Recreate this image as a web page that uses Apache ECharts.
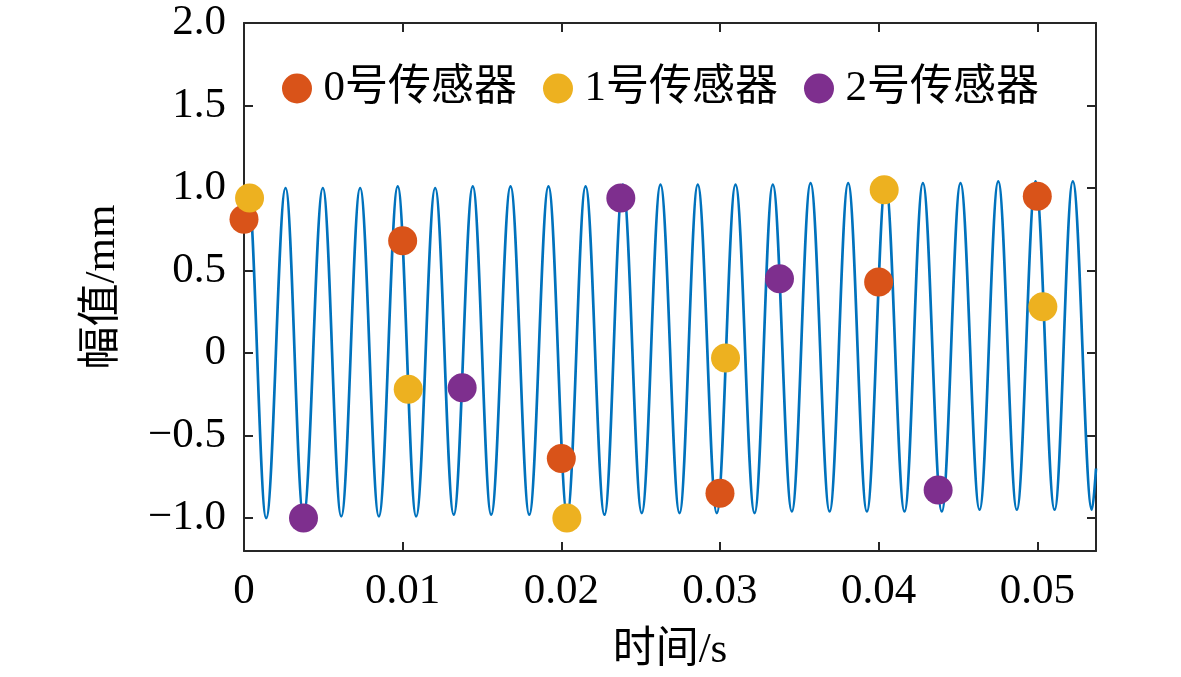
<!DOCTYPE html>
<html>
<head>
    <meta charset="utf-8">
    <title>传感器采样</title>
    <script src="https://cdn.jsdelivr.net/npm/echarts@6.0.0/dist/echarts.min.js"></script>
    <style>
        html, body { margin: 0; padding: 0; background: #fff; }
        #chart { width: 1181px; height: 677px; }
    </style>
</head>
<body>
<div id="chart"></div>
<script>
    // 振动曲线：起点、各波峰/波谷、终点
    var waveT = [0, 0.00025, 0.00140, 0.00262, 0.00375, 0.00497, 0.00613, 0.00732, 0.00850, 0.00969,
        0.01085, 0.01205, 0.01322, 0.01442, 0.01558, 0.01680, 0.01798, 0.01919, 0.02037, 0.02153,
        0.02272, 0.02388, 0.02507, 0.02625, 0.02745, 0.02860, 0.02980, 0.03098, 0.03218, 0.03333,
        0.03453, 0.03571, 0.03691, 0.03808, 0.03926, 0.04044, 0.04163, 0.04279, 0.04398, 0.04516,
        0.04636, 0.04754, 0.04871, 0.04989, 0.05109, 0.05224, 0.05344, 0.0537];
    var waveY = [0.79, 1.00, -1.00, 1.00, -0.99, 1.00, -0.99, 1.00, -0.99, 1.01,
        -0.99, 1.00, -0.98, 1.01, -0.98, 1.01, -0.98, 1.01, -0.98, 1.01,
        -0.98, 1.02, -0.97, 1.02, -0.97, 1.02, -0.97, 1.02, -0.97, 1.02,
        -0.96, 1.03, -0.96, 1.03, -0.96, 1.03, -0.96, 1.03, -0.96, 1.03,
        -0.95, 1.04, -0.95, 1.04, -0.95, 1.04, -0.95, -0.70];

    // 传感器采样点
    var sensor0T = [0, 0.01, 0.02, 0.03, 0.04, 0.05];
    var sensor0Y = [0.81, 0.68, -0.64, -0.85, 0.43, 0.95];
    var sensor1T = [0.00035, 0.01035, 0.02035, 0.03035, 0.04035, 0.05035];
    var sensor1Y = [0.94, -0.22, -1.00, -0.03, 0.99, 0.28];
    var sensor2T = [0.00375, 0.01375, 0.02375, 0.03375, 0.04375];
    var sensor2Y = [-1.00, -0.21, 0.94, 0.45, -0.83];

    var sensorNames = ['0号传感器', '1号传感器', '2号传感器'];

    // 刻度
    var xTicks = [0, 0.01, 0.02, 0.03, 0.04, 0.05];
    var yTicks = [-1.0, -0.5, 0, 0.5, 1.0, 1.5, 2.0];

    function zip(a, b) {
        return a.map(function (v, i) { return [v, b[i]]; });
    }

    var FONT = "'Liberation Serif', 'Noto Sans CJK SC', serif";
    var AXIS_COLOR = '#262626';

    function xFmt(v) { return v === 0 ? '0' : v.toFixed(2); }
    function yFmt(v) {
        if (v === 0) return '0';
        return (v < 0 ? '\u2212' : '') + Math.abs(v).toFixed(1);
    }

    function baseX(show) {
        return {
            type: 'value',
            min: 0,
            max: 0.0537,
            position: show ? 'bottom' : 'top',
            splitLine: { show: false },
            axisLine: { show: true, onZero: false, lineStyle: { color: AXIS_COLOR, width: 2 } },
            axisTick: { show: true, inside: true, length: 9, customValues: xTicks,
                lineStyle: { color: AXIS_COLOR, width: 2 } },
            axisLabel: { show: show, customValues: xTicks, formatter: xFmt, margin: 19,
                fontFamily: FONT, fontSize: 43, color: '#000' }
        };
    }
    function baseY(show) {
        return {
            type: 'value',
            min: -1.2,
            max: 2.0,
            position: show ? 'left' : 'right',
            splitLine: { show: false },
            axisLine: { show: true, onZero: false, lineStyle: { color: AXIS_COLOR, width: 2 } },
            axisTick: { show: true, inside: true, length: 9, customValues: yTicks,
                lineStyle: { color: AXIS_COLOR, width: 2 } },
            axisLabel: { show: show, customValues: yTicks, formatter: yFmt, margin: 18,
                fontFamily: FONT, fontSize: 43, color: '#000' }
        };
    }

    var xMain = baseX(true);
    xMain.name = '时间/s';
    xMain.nameLocation = 'middle';
    xMain.nameGap = 78;
    xMain.nameTextStyle = { fontFamily: FONT, fontSize: 43, color: '#000' };

    var yMain = baseY(true);
    yMain.name = '幅值/mm';
    yMain.nameLocation = 'middle';
    yMain.nameGap = 120;
    yMain.nameTextStyle = { fontFamily: FONT, fontSize: 43, color: '#000' };

    var colors = ['#D95319', '#EDB120', '#7E2F8E'];
    var sensorData = [zip(sensor0T, sensor0Y), zip(sensor1T, sensor1Y), zip(sensor2T, sensor2Y)];

    var series = [{
        type: 'line',
        data: zip(waveT, waveY),
        showSymbol: false,
        smooth: 0.364,
        smoothMonotone: 'x',
        lineStyle: { color: '#0072BD', width: 2.7 },
        silent: true,
        z: 1
    }];
    sensorNames.forEach(function (name, i) {
        series.push({
            name: name,
            type: 'scatter',
            data: sensorData[i],
            symbol: 'circle',
            symbolSize: 29,
            itemStyle: { color: colors[i], opacity: 1 },
            z: 3 + i
        });
    });

    var chart = echarts.init(document.getElementById('chart'));
    chart.setOption({
        animation: false,
        backgroundColor: '#fff',
        grid: { left: 244, right: 85, top: 23, bottom: 123 },
        legend: {
            data: sensorNames,
            left: 277,
            top: 62,
            icon: 'circle',
            itemWidth: 43,
            itemHeight: 30,
            itemGap: 26,
            textStyle: { fontFamily: FONT, fontSize: 43, color: '#000' }
        },
        xAxis: [xMain, baseX(false)],
        yAxis: [yMain, baseY(false)],
        series: series
    });
</script>
</body>
</html>
